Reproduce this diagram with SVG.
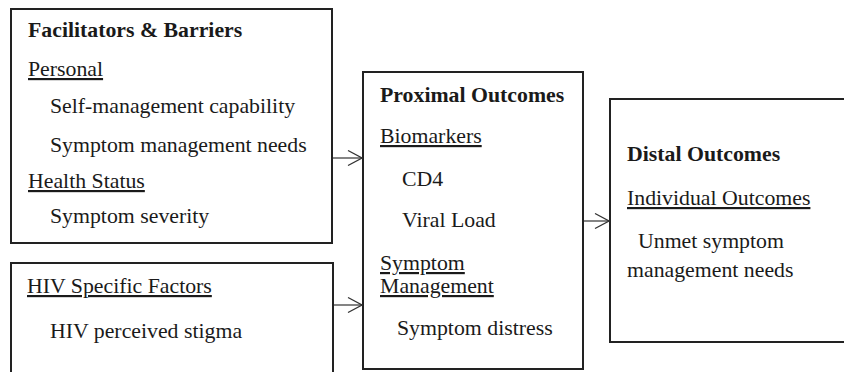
<svg xmlns="http://www.w3.org/2000/svg" width="844" height="372" viewBox="0 0 844 372">
<defs>
<marker id="chev" viewBox="0 0 16 16" refX="15" refY="8" markerWidth="16" markerHeight="16" markerUnits="userSpaceOnUse" orient="auto">
<path d="M1,0.5 L15,8 L1,15.5" fill="none" stroke="#333" stroke-width="1.2"/>
</marker>
</defs>
<style>
.box{fill:#fff;stroke:#222;stroke-width:2}
text{font-family:"Liberation Serif","Times New Roman",serif;font-size:21.8px;fill:#1a1a1a}
.b{font-weight:bold}
.u{text-decoration:underline}
.conn{stroke:#333;stroke-width:1.2;fill:none;marker-end:url(#chev)}
</style>
<rect width="844" height="372" fill="#fff"/>
<g id="facilitators">
<rect class="box" x="11" y="9" width="321" height="234"/>
<text class="b" x="28" y="37">Facilitators &amp; Barriers</text>
<text class="u" x="28" y="76">Personal</text>
<text x="50" y="113">Self-management capability</text>
<text x="50" y="152">Symptom management needs</text>
<text class="u" x="28" y="188">Health Status</text>
<text x="50" y="223">Symptom severity</text>
</g>
<g id="hiv">
<rect class="box" x="11" y="263" width="322" height="120"/>
<text class="u" x="27" y="293">HIV Specific Factors</text>
<text x="50" y="338">HIV perceived stigma</text>
</g>
<g id="proximal">
<rect class="box" x="363" y="72" width="220" height="297"/>
<text class="b" x="380" y="102">Proximal Outcomes</text>
<text class="u" x="380" y="143">Biomarkers</text>
<text x="402" y="186">CD4</text>
<text x="402" y="227">Viral Load</text>
<text class="u" x="380" y="270">Symptom</text>
<text class="u" x="380" y="293">Management</text>
<text x="397" y="335">Symptom distress</text>
</g>
<g id="distal">
<rect class="box" x="610" y="99" width="250" height="243"/>
<text class="b" x="627" y="161">Distal Outcomes</text>
<text class="u" x="627" y="205">Individual Outcomes</text>
<text x="638" y="248">Unmet symptom</text>
<text x="627" y="277">management needs</text>
</g>
<g id="connectors">
<line class="conn" x1="333" y1="158" x2="362" y2="158"/>
<line class="conn" x1="334" y1="305" x2="362" y2="305"/>
<line class="conn" x1="584" y1="221" x2="609" y2="221"/>
</g>
</svg>
